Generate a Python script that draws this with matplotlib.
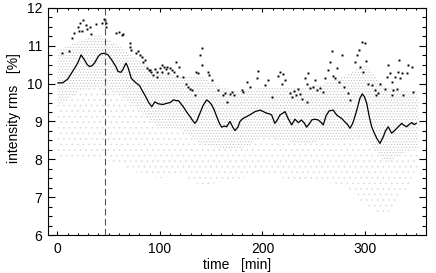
import numpy as np
import matplotlib
matplotlib.use("Agg")
import matplotlib.pyplot as plt
from matplotlib.ticker import MultipleLocator

plt.rcParams['font.family'] = ['Liberation Sans', 'DejaVu Sans']
plt.rcParams['hatch.linewidth'] = 0.5

# running mean of the intensity rms
mean_t = [0.5, 5, 10, 13.5, 17, 20, 23, 26.5, 29, 31.5, 34, 36.5, 39.5, 42, 44.5, 47, 49.3, 52,
          54, 57, 59, 62, 64, 66, 67, 69, 72, 76.5, 80, 83, 86, 89, 92, 95, 98, 100, 103, 106.5,
          110, 113, 116, 118, 122.7, 126, 129.3, 132, 134, 136, 139, 142, 145.5, 148, 150.4, 153,
          155.3, 158, 160.2, 163, 165, 168.3, 171, 173.2, 176, 178, 181, 184.6, 188, 192.7, 197.6,
          201, 204, 207, 209, 212, 214, 217, 222, 225, 228.5, 231.7, 235, 238, 241, 243, 246, 248,
          251, 254.4, 257, 259.3, 262, 265, 269, 272.4, 275, 277.3, 280, 283, 285.4, 288, 290.2,
          293, 295, 297.4, 299.5, 301.7, 304, 306.5, 309, 311.4, 314.6, 317.9, 320, 322.7, 326,
          328.5, 331, 335.8, 338, 340.7, 343, 345.6, 348, 350]
mean_v = [10.02, 10.02, 10.12, 10.27, 10.42, 10.56, 10.76, 10.62, 10.5, 10.45, 10.48, 10.56, 10.71,
          10.78, 10.80, 10.79, 10.76, 10.66, 10.58, 10.45, 10.32, 10.30, 10.38, 10.50, 10.54, 10.41,
          10.14, 10.02, 9.95, 9.80, 9.66, 9.50, 9.39, 9.52, 9.47, 9.46, 9.45, 9.48, 9.50, 9.57, 9.55,
          9.55, 9.39, 9.25, 9.13, 9.02, 8.95, 9.02, 9.22, 9.42, 9.57, 9.52, 9.44, 9.30, 9.13, 8.95,
          8.85, 8.88, 8.86, 9.0, 8.85, 8.76, 8.85, 9.0, 9.08, 9.13, 9.18, 9.26, 9.30, 9.26, 9.22,
          9.20, 9.17, 8.95, 9.02, 9.17, 9.26, 9.08, 8.91, 9.06, 8.97, 9.04, 8.95, 8.85, 8.95, 9.04,
          9.06, 9.04, 8.98, 8.91, 9.15, 9.28, 9.30, 9.17, 9.12, 9.08, 9.0, 8.92, 8.82, 8.95, 9.13,
          9.40, 9.61, 9.73, 9.65, 9.48, 9.15, 8.86, 8.70, 8.56, 8.42, 8.60, 8.75, 8.86, 8.69, 8.75,
          8.82, 8.95, 8.90, 8.86, 8.92, 8.97, 8.92, 8.95]

# high outliers (black squares), (time, rms)
peaks = [(4, 10.8), (11, 10.85), (14, 11.2), (16, 11.35), (20, 11.5), (21, 11.4), (22, 11.6),
         (24, 11.38), (25, 11.68), (27.5, 11.55), (29, 11.44), (31.5, 11.5), (33, 11.3),
         (38, 11.58), (43, 11.6), (45, 11.7), (46, 11.68), (47, 11.6), (47.5, 11.5),
         (57.5, 11.33), (60, 11.36), (62.5, 11.29), (64, 11.32), (70.5, 11.08), (71, 10.97),
         (72, 10.88), (77, 10.8), (78.5, 10.85), (80.5, 10.76), (82, 10.7), (83.7, 10.58),
         (85, 10.63), (87, 10.4), (89, 10.35), (90, 10.36), (91, 10.3), (93.5, 10.23),
         (95, 10.38), (96.8, 10.18), (97, 10.3), (100, 10.4), (101.6, 10.5), (102, 10.32),
         (104, 10.45), (106, 10.38), (106.5, 10.45), (108, 10.28), (110, 10.42), (112, 10.35),
         (114, 10.31), (116, 10.58), (117, 10.2), (119, 10.45), (122.7, 10.18), (125, 10.0),
         (127, 9.9), (129, 9.85), (131, 9.82), (134, 9.7), (135, 10.3), (137, 10.28),
         (139, 10.76), (140.6, 10.5), (140.7, 10.94), (147, 10.3), (148, 10.23), (150.4, 10.1),
         (157, 9.83), (161.5, 9.7), (163, 9.75), (165, 9.52), (168, 9.72), (170, 9.78),
         (172, 9.7), (179.7, 9.83), (181, 9.78), (184.6, 10.05), (188, 9.9), (194.3, 10.14),
         (196, 10.34), (202.4, 9.96), (205, 10.1), (209.6, 9.66), (215, 10.2), (217, 10.3),
         (219, 10.0), (220, 10.25), (222, 10.1), (227, 9.75), (229, 9.65), (231, 9.8),
         (233, 9.7), (235, 9.85), (237, 9.72), (239, 9.6), (241.5, 10.14), (243, 9.52),
         (243.5, 10.0), (244.7, 10.27), (246.3, 9.88), (249.5, 9.92), (251, 10.1),
         (252.7, 9.83), (256, 9.88), (259, 9.79), (260.9, 10.14), (264.2, 10.36),
         (265.8, 10.58), (267.5, 10.85), (269, 10.2), (271, 10.15), (273, 10.4), (275, 10.05),
         (277.3, 10.76), (280, 9.9), (283, 9.75), (285.4, 9.57), (290, 10.57), (292, 10.75),
         (294, 10.9), (295, 10.45), (296.8, 11.11), (298, 10.3), (300, 11.07), (301, 10.6),
         (303, 10.0), (306.5, 9.96), (309.8, 9.82), (310.5, 9.69), (313, 9.74), (314.6, 10.0),
         (319.5, 9.87), (321.1, 10.18), (322.7, 10.49), (324.3, 10.27), (326, 10.05),
         (326.5, 9.69), (327.6, 9.83), (329.3, 10.18), (331, 9.87), (332.5, 10.31),
         (333, 10.63), (334.1, 10.14), (335.8, 10.27), (337.4, 9.69), (340.7, 10.27),
         (341.7, 10.49), (345.6, 10.45), (347.2, 9.78)]
peak_t = [p[0] for p in peaks]
peak_v = [p[1] for p in peaks]

# extent of the grey cloud of single measurements
cloud_t = [0, 20, 40, 60, 80, 100, 120, 140, 160, 180, 200, 220, 240, 260, 280, 300, 320, 340, 352]
cloud_hi = [10.9, 11.1, 11.3, 11.0, 10.6, 10.3, 10.2, 10.2, 9.9, 9.8, 9.9, 9.9, 9.9, 10.0, 10.2,
            10.5, 9.9, 9.8, 9.8]
cloud_mid = [9.4, 9.8, 9.9, 9.7, 9.3, 8.8, 8.8, 8.4, 8.3, 8.3, 8.6, 8.5, 8.4, 8.5, 8.5, 8.6,
             7.9, 8.2, 8.3]
cloud_lo = [8.0, 8.0, 8.0, 7.9, 7.6, 7.5, 7.6, 7.3, 7.4, 7.5, 7.6, 7.5, 7.4, 7.4, 7.3, 6.8,
            6.5, 7.2, 7.6]

t_mark = 46

fig = plt.figure(figsize=(4.36, 2.73), dpi=100, facecolor='white')
ax = fig.add_axes([0.110, 0.139, 0.867, 0.832])

ax.fill_between(cloud_t, cloud_mid, cloud_hi, facecolor='none', edgecolor='#c2c2c2',
                hatch='......', linewidth=0)
ax.fill_between(cloud_t, cloud_lo, cloud_mid, facecolor='none', edgecolor='#dcdcdc',
                hatch='...', linewidth=0)

ax.plot(peak_t, peak_v, 's', color='black', ms=1.4, mew=0)
ax.plot(mean_t, mean_v, '-', color='black', lw=0.9)
ax.axvline(t_mark, color='#555555', lw=0.8, ls=(0, (6, 3)))

ax.set_xlim(-9.3, 359.5)
ax.set_ylim(6, 12)
ax.xaxis.set_major_locator(MultipleLocator(100))
ax.xaxis.set_minor_locator(MultipleLocator(10))
ax.yaxis.set_major_locator(MultipleLocator(1))
ax.yaxis.set_minor_locator(MultipleLocator(0.25))
ax.tick_params(axis='both', which='both', direction='in', top=True, right=True,
               labelsize=10, width=0.8)
ax.tick_params(axis='x', which='major', length=3, pad=5)
ax.tick_params(axis='x', which='minor', length=1.5)
ax.tick_params(axis='y', which='major', length=5, pad=4)
ax.tick_params(axis='y', which='minor', length=2.6)
for s in ax.spines.values():
    s.set_linewidth(0.8)

ax.set_xlabel('time   [min]', fontsize=10)
ax.set_ylabel('intensity rms   [%]', fontsize=10)
ax.xaxis.set_label_coords(0.50, -0.102)
ax.yaxis.set_label_coords(-0.072, 0.56)

fig.savefig('out.png', dpi=100, facecolor='white')
